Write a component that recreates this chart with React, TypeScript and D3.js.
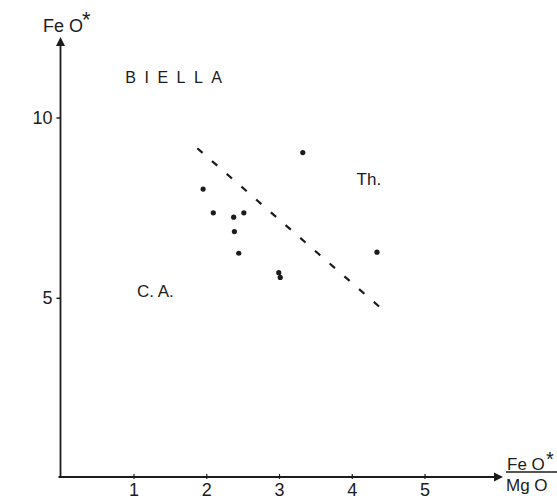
import React from "react";
import * as d3 from "d3";

const xTicks = [1, 2, 3, 4, 5];
const yTicks = [5, 10];
const pointsX = [3.32, 1.95, 2.09, 2.37, 2.51, 2.38, 2.44, 2.99, 3.01, 4.34];
const pointsY = [9.04, 8.03, 7.37, 7.25, 7.37, 6.85, 6.25, 5.71, 5.58, 6.28];
const dividerX = [1.87, 4.37];
const dividerY = [9.16, 4.77];
const regionLabels = [
  { text: "BIELLA", x: 0.88, y: 10.98 },
  { text: "Th.", x: 4.06, y: 8.14 },
  { text: "C. A.", x: 1.04, y: 5.04 },
];

const INK = "#1c1c1c";
const FONT = "'Liberation Sans', Arial, sans-serif";

export default function App() {
  const x = d3.scaleLinear().domain([1, 5]).range([134, 425]);
  const y = d3.scaleLinear().domain([5, 10]).range([298.3, 118]);
  const x0 = 60.5;
  const y0 = 477;
  const line = d3
    .line<number>()
    .x((_, i) => x(dividerX[i]))
    .y((_, i) => y(dividerY[i]));

  return (
    <svg
      width={557}
      height={500}
      style={{ position: "absolute", left: 0, top: 0, background: "#fff" }}
    >
      <rect width={557} height={500} fill="#fff" />
      {/* axes */}
      <path d={`M${x0},${y0} L${x0},44`} stroke={INK} strokeWidth={1.8} fill="none" />
      <path d={`M${x0 - 4.5},46 L${x0},37 L${x0 + 4.5},46 Z`} fill={INK} />
      <path d={`M${x0 - 2},${y0} L497,${y0}`} stroke={INK} strokeWidth={2} fill="none" />
      <path d={`M494,${y0 - 4.5} L503,${y0} L494,${y0 + 4.5} Z`} fill={INK} />

      {/* y ticks */}
      {yTicks.map((t) => (
        <g key={"y" + t}>
          <line x1={x0 - 4} x2={x0} y1={y(t)} y2={y(t)} stroke={INK} strokeWidth={1.5} />
          <text
            x={x0 - 8}
            y={y(t) + 6}
            textAnchor="end"
            fontFamily={FONT}
            fontSize={18}
            fill={INK}
          >
            {t}
          </text>
        </g>
      ))}

      {/* x ticks */}
      {xTicks.map((t) => (
        <g key={"x" + t}>
          <line x1={x(t)} x2={x(t)} y1={y0 - 3} y2={y0 + 2} stroke={INK} strokeWidth={1.2} />
          <text
            x={x(t)}
            y={496}
            textAnchor="middle"
            fontFamily={FONT}
            fontSize={18}
            fill={INK}
          >
            {t}
          </text>
        </g>
      ))}

      {/* y axis label */}
      <text x={43} y={32} fontFamily={FONT} fontSize={18} fill={INK}>
        Fe O
      </text>
      <text x={82} y={27} fontFamily={FONT} fontSize={22} fill={INK}>
        *
      </text>

      {/* x axis label */}
      <text x={507} y={470} fontFamily={FONT} fontSize={17} fill={INK}>
        Fe O
      </text>
      <text x={546} y={466} fontFamily={FONT} fontSize={20} fill={INK}>
        *
      </text>
      <line x1={506} x2={557} y1={472} y2={472} stroke={INK} strokeWidth={1.3} />
      <text x={506} y={491} fontFamily={FONT} fontSize={17} fill={INK}>
        Mg O
      </text>

      {/* divider */}
      <path
        d={line(dividerX) || ""}
        stroke={INK}
        strokeWidth={2.2}
        strokeDasharray="7,12.5"
        fill="none"
      />

      {/* points */}
      {pointsX.map((px, i) => (
        <circle key={i} cx={x(px)} cy={y(pointsY[i])} r={2.6} fill={INK} />
      ))}

      {/* region labels */}
      {regionLabels.map((l) => (
        <text
          key={l.text}
          x={x(l.x)}
          y={y(l.y)}
          fontFamily={FONT}
          fontSize={l.text === "BIELLA" ? 16 : 17}
          letterSpacing={l.text === "BIELLA" ? 8.5 : 0}
          fill={INK}
        >
          {l.text}
        </text>
      ))}
    </svg>
  );
}
